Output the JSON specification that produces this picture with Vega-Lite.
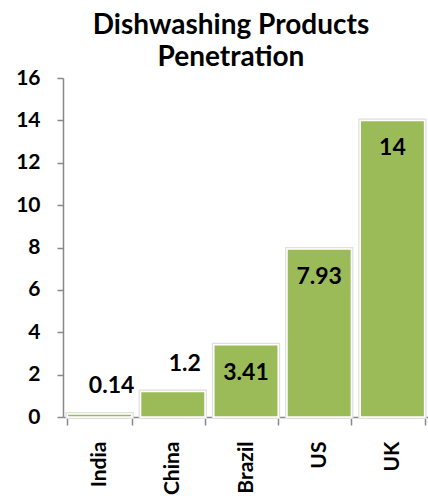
{
  "$schema": "https://vega.github.io/schema/vega-lite/v6.json",
  "autosize": "none",
  "width": 366,
  "height": 339,
  "padding": {"left": 63, "top": 78, "right": 0, "bottom": 85},
  "background": "white",
  "config": {"view": {"stroke": null}, "font": "Lato"},
  "title": {
    "text": ["Dishwashing Products", "Penetration"],
    "font": "Lato",
    "fontSize": 28,
    "fontWeight": "bold",
    "color": "black",
    "anchor": "middle",
    "dx": -15,
    "offset": -5,
    "lineHeight": 32
  },
  "data": {
    "values": [
      {"country": "India", "value": 0.14},
      {"country": "China", "value": 1.2},
      {"country": "Brazil", "value": 3.41},
      {"country": "US", "value": 7.93},
      {"country": "UK", "value": 14}
    ]
  },
  "encoding": {
    "x": {
      "field": "country",
      "type": "nominal",
      "sort": null,
      "scale": {"paddingInner": 0.12, "paddingOuter": 0.06},
      "axis": {
        "title": null,
        "labelAngle": -90,
        "labelAlign": "right",
        "labelBaseline": "middle",
        "labelFont": "Lato",
        "labelFontSize": 21,
        "labelFontWeight": "bold",
        "labelColor": "black",
        "labelPadding": 16,
        "tickBand": "extent",
        "tickSize": 8,
        "tickColor": "#888888",
        "domainColor": "#888888",
        "tickWidth": 1.5,
        "domainWidth": 1.5
      }
    },
    "y": {
      "field": "value",
      "type": "quantitative",
      "scale": {"domain": [0, 16]},
      "axis": {
        "title": null,
        "values": [0, 2, 4, 6, 8, 10, 12, 14, 16],
        "grid": false,
        "labelFont": "Lato",
        "labelFontSize": 21,
        "labelFontWeight": "bold",
        "labelColor": "black",
        "labelPadding": 17,
        "tickSize": 6,
        "tickColor": "#888888",
        "domainColor": "#888888",
        "tickWidth": 1.5,
        "domainWidth": 1.5
      }
    }
  },
  "layer": [
    {
      "mark": {"type": "bar", "fill": "#9BBB59", "stroke": "#e0e0e0", "strokeWidth": 4}
    },
    {
      "mark": {"type": "bar", "fill": "#9BBB59", "stroke": "white", "strokeWidth": 1.5}
    },
    {
      "transform": [{"filter": "datum.value < 2"}],
      "mark": {"type": "text", "fontSize": 23, "fontWeight": "bold", "color": "black", "baseline": "bottom", "dx": 12, "dy": -16},
      "encoding": {"text": {"field": "value", "type": "quantitative"}}
    },
    {
      "transform": [{"filter": "datum.value >= 2"}],
      "mark": {"type": "text", "fontSize": 23, "fontWeight": "bold", "color": "black", "baseline": "middle", "dy": 28},
      "encoding": {"text": {"field": "value", "type": "quantitative"}}
    }
  ]
}
